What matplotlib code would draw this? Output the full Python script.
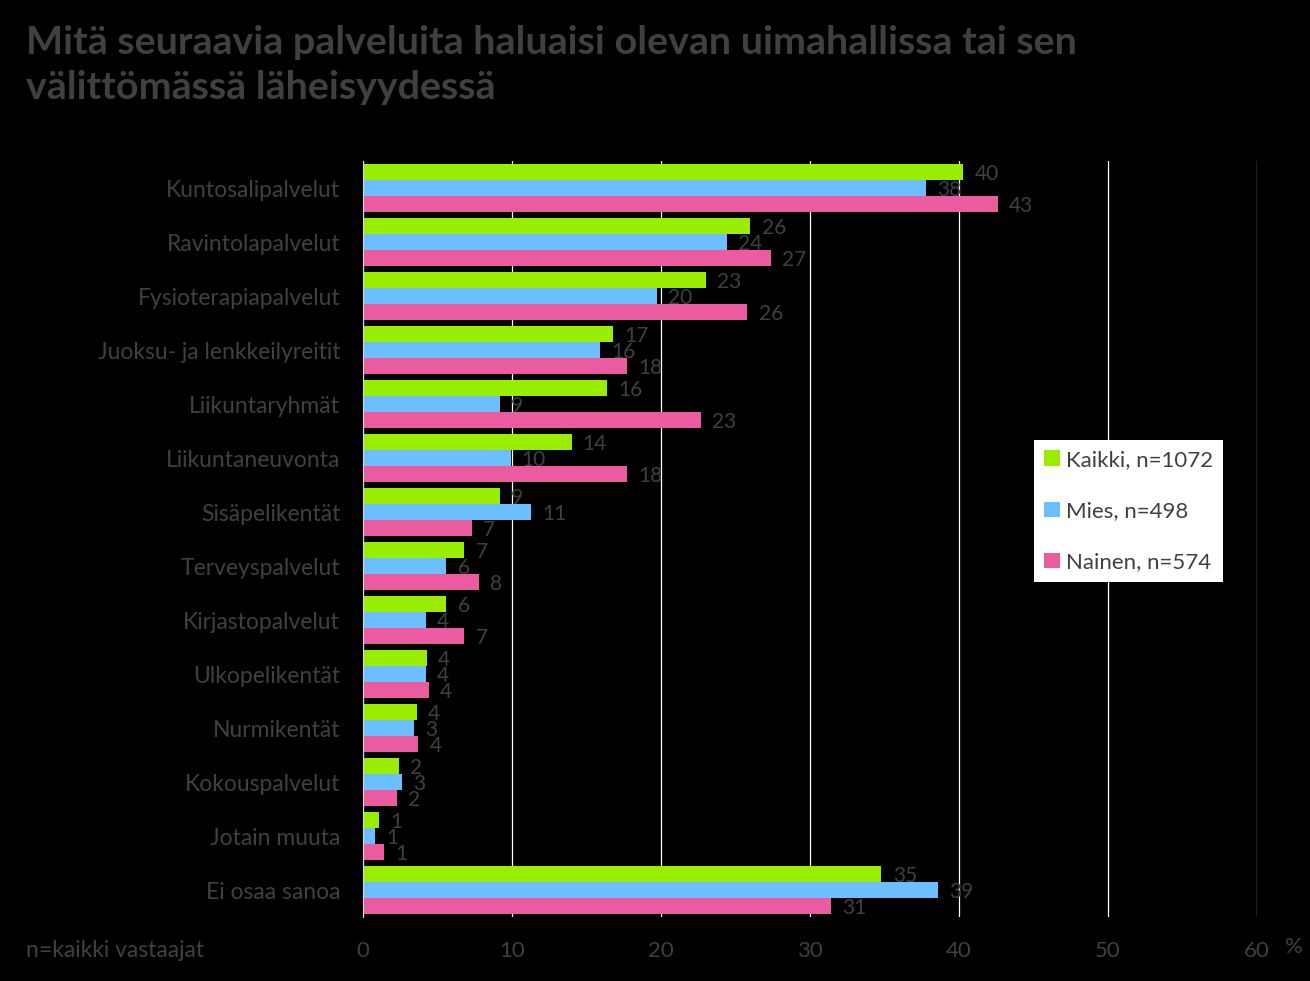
import numpy as np
import matplotlib
matplotlib.use("Agg")
import matplotlib.pyplot as plt

# data (percent)
categories = ["Kuntosalipalvelut", "Ravintolapalvelut", "Fysioterapiapalvelut",
              "Juoksu- ja lenkkeilyreitit", "Liikuntaryhmät", "Liikuntaneuvonta",
              "Sisäpelikentät", "Terveyspalvelut", "Kirjastopalvelut",
              "Ulkopelikentät", "Nurmikentät", "Kokouspalvelut",
              "Jotain muuta", "Ei osaa sanoa"]
kaikki = [40.3, 26.0, 23.0, 16.8, 16.4, 14.0, 9.2, 6.8, 5.6, 4.3, 3.6, 2.4, 1.1, 34.8]
mies = [37.8, 24.4, 19.7, 15.9, 9.2, 9.9, 11.3, 5.6, 4.2, 4.2, 3.4, 2.6, 0.8, 38.6]
nainen = [42.6, 27.4, 25.8, 17.7, 22.7, 17.7, 7.3, 7.8, 6.8, 4.4, 3.7, 2.3, 1.4, 31.4]
series_names = ["Kaikki, n=1072", "Mies, n=498", "Nainen, n=574"]
x_ticks = [0, 10, 20, 30, 40, 50, 60]

colors = ["#99EE00", "#6CBFFF", "#EA5BA0"]
text_col = "#404040"
plt.rcParams['font.family'] = ['Lato', 'DejaVu Sans']

fig = plt.figure(figsize=(13.1, 9.81), dpi=100, facecolor="black")
ax = fig.add_axes([0.2771, 0.0652, 0.6824, 0.7706], facecolor="black")

y = np.arange(len(categories))
h = 0.296
for i, (vals, c, name) in enumerate(zip([kaikki, mies, nainen], colors, series_names)):
    pos = y + (i - 1) * h
    ax.barh(pos, vals, height=h, color=c, label=name, zorder=3)
    for p, v in zip(pos, vals):
        ax.text(v + 0.75, p + 0.03, f"{v:.0f}", va="center", ha="left",
                fontsize=15, color=text_col, zorder=4)

ax.set_ylim(len(categories) - 0.5, -0.5)
ax.set_xlim(0, 60)
ax.set_yticks(y)
ax.set_yticklabels(categories, fontsize=16.5, color=text_col)
ax.set_xticks(x_ticks)
ax.set_xticklabels([str(t) for t in x_ticks], fontsize=16, color=text_col)
ax.tick_params(axis="y", length=0, pad=16.5)
ax.tick_params(axis="x", length=0, pad=17)
ax.grid(axis="x", color="white", linewidth=0.9, zorder=1)
for s in ["top", "right", "bottom"]:
    ax.spines[s].set_visible(False)
ax.spines["left"].set_color("#d9d9d9")
ax.spines["left"].set_zorder(5)

leg = ax.legend(loc="upper left", bbox_to_anchor=(0.7506, 0.631), frameon=True,
                fancybox=False, edgecolor="white", facecolor="white", framealpha=1,
                fontsize=16, handlelength=0.7, handleheight=0.7,
                labelspacing=1.4, borderpad=0.45, handletextpad=0.3,
                borderaxespad=0)
leg.get_frame().set_linewidth(0)
for t in leg.get_texts():
    t.set_color(text_col)

fig.text(0.020, 0.975, "Mitä seuraavia palveluita haluaisi olevan uimahallissa tai sen\nvälittömässä läheisyydessä",
         fontsize=28.4, fontweight="bold", color=text_col, va="top", ha="left",
         linespacing=1.35)
fig.text(0.020, 0.031, "n=kaikki vastaajat", fontsize=16.5, color=text_col, va="center")
fig.text(0.981, 0.035, "%", fontsize=16, color=text_col, va="center")

fig.savefig("out.png", dpi=100, facecolor="black")
